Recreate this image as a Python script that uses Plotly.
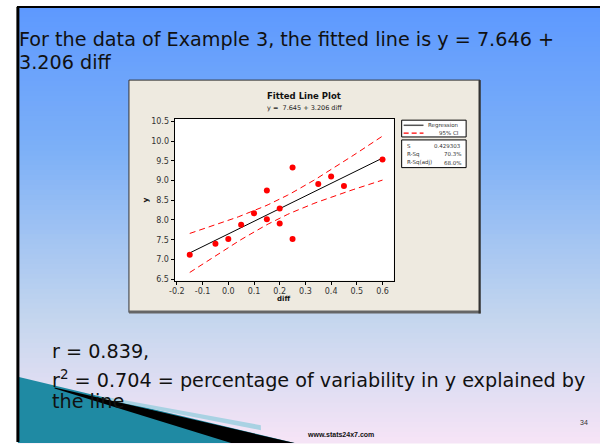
import numpy as np
import plotly.graph_objects as go

# ---- data ----
diff = [-0.15, -0.05, 0.0, 0.05, 0.10, 0.15, 0.15, 0.20, 0.20, 0.25, 0.25, 0.35, 0.40, 0.45, 0.60]
yvals = [7.12, 7.40, 7.52, 7.88, 8.17, 8.75, 8.02, 8.29, 7.91, 9.33, 7.52, 8.91, 9.10, 8.86, 9.53]
intercept = 7.645
slope = 3.206
s_value = 0.429303
t_crit = 2.1604  # t(0.975, 13)
xticks = [-0.2, -0.1, 0.0, 0.1, 0.2, 0.3, 0.4, 0.5, 0.6]
yticks = [6.5, 7.0, 7.5, 8.0, 8.5, 9.0, 9.5, 10.0, 10.5]
stats_labels = ["S", "R-Sq", "R-Sq(adj)"]
stats_values = ["0.429303", "70.3%", "68.0%"]

W, H = 600, 445
def px(x):
    return x / W
def py(y):
    return 1 - y / H

x_arr = np.array(diff)
xbar = x_arr.mean()
sxx = ((x_arr - xbar) ** 2).sum()
n = len(diff)
xfit = np.linspace(min(diff), max(diff), 60)
yfit = intercept + slope * xfit
half = t_crit * s_value * np.sqrt(1 / n + (xfit - xbar) ** 2 / sxx)

fig = go.Figure()
fig.add_trace(go.Scatter(x=xfit, y=yfit, mode="lines", line=dict(color="black", width=1), hoverinfo="skip"))
fig.add_trace(go.Scatter(x=xfit, y=yfit + half, mode="lines", line=dict(color="#ff0000", width=1, dash="6px,4px"), hoverinfo="skip"))
fig.add_trace(go.Scatter(x=xfit, y=yfit - half, mode="lines", line=dict(color="#ff0000", width=1, dash="6px,4px"), hoverinfo="skip"))
fig.add_trace(go.Scatter(x=diff, y=yvals, mode="markers", marker=dict(color="#ff0000", size=6)))

shapes = []
# background gradient
stops = [(0, (92, 152, 255)), (150, (125, 176, 247)), (320, (196, 214, 238)), (445, (246, 228, 246))]
def col(y):
    for (y0, c0), (y1, c1) in zip(stops[:-1], stops[1:]):
        if y0 <= y <= y1:
            t = (y - y0) / (y1 - y0)
            return "rgb(%d,%d,%d)" % tuple(round(a + (b - a) * t) for a, b in zip(c0, c1))
    return "rgb(%d,%d,%d)" % stops[-1][1]
step = 5
for y in range(5, H, step):
    shapes.append(dict(type="rect", xref="paper", yref="paper", x0=px(13), x1=1, y0=py(y + step + 1.5), y1=py(y),
                       fillcolor=col(y + step / 2), line=dict(width=0), layer="below"))

def path(points):
    return "M " + " L ".join("%f,%f" % (px(a), py(b)) for a, b in points) + " Z"

# bottom-left decoration
shapes.append(dict(type="path", xref="paper", yref="paper", path=path([(13, 379), (292, 446), (13, 446)]),
                   fillcolor="#1f8aa3", line=dict(width=0), layer="below"))
shapes.append(dict(type="path", xref="paper", yref="paper", path=path([(100, 402), (258, 433), (258, 428), (100, 399)]),
                   fillcolor="#a9d2e3", line=dict(width=0), layer="below"))
shapes.append(dict(type="path", xref="paper", yref="paper", path=path([(50, 390), (292, 446), (228, 446), (50, 391)]),
                   fillcolor="black", line=dict(width=0), layer="below"))
# slide border
shapes.append(dict(type="line", xref="paper", yref="paper", x0=px(12), x1=1, y0=py(5), y1=py(5), line=dict(color="black", width=2), layer="below"))
shapes.append(dict(type="line", xref="paper", yref="paper", x0=px(13), x1=px(13), y0=py(5), y1=0, line=dict(color="black", width=3), layer="below"))
# chart panel
shapes.append(dict(type="rect", xref="paper", yref="paper", x0=px(125), x1=px(479), y0=py(314), y1=py(79),
                   fillcolor="#eeeae0", line=dict(color="#333333", width=1), layer="below"))
shapes.append(dict(type="line", xref="paper", yref="paper", x0=px(125), x1=px(480), y0=py(313.5), y1=py(313.5), line=dict(color="#666666", width=3), layer="below"))
shapes.append(dict(type="line", xref="paper", yref="paper", x0=px(478.5), x1=px(478.5), y0=py(79), y1=py(315), line=dict(color="#333333", width=2), layer="below"))
# plot area (white)
shapes.append(dict(type="rect", xref="paper", yref="paper", x0=px(171), x1=px(392), y0=py(281.7), y1=py(118.3),
                   fillcolor="white", line=dict(width=0), layer="below"))
# legend boxes
shapes.append(dict(type="rect", xref="paper", yref="paper", x0=px(400), x1=px(465), y0=py(136.5), y1=py(119.5),
                   fillcolor="white", line=dict(color="black", width=1)))
shapes.append(dict(type="rect", xref="paper", yref="paper", x0=px(400), x1=px(465), y0=py(167.5), y1=py(139.5),
                   fillcolor="white", line=dict(color="black", width=1)))
shapes.append(dict(type="line", xref="paper", yref="paper", x0=px(402), x1=px(422), y0=py(124.7), y1=py(124.7), line=dict(color="#555555", width=1.5)))
shapes.append(dict(type="line", xref="paper", yref="paper", x0=px(402), x1=px(422), y0=py(132.7), y1=py(132.7), line=dict(color="#ff0000", width=1.2, dash="5px,3px")))

ann = []
def text(x, y, s, size, anchor="left", color="#111111", family="DejaVu Sans", bold=False, angle=0):
    if bold:
        s = "<b>" + s + "</b>"
    ann.append(dict(x=px(x), y=py(y), xref="paper", yref="paper", text=s, showarrow=False,
                    xanchor=anchor, yanchor="middle", textangle=angle,
                    font=dict(size=size, color=color, family=family)))

text(12, 38, "For the data of Example 3, the fitted line is y = 7.646 +", 19.2)
text(12, 61, "3.206 diff", 19.2)
text(45, 353, "r = 0.839,", 19.2)
text(45, 382, "r<sup>2</sup> = 0.704 = percentage of variability in y explained by", 19.2)
text(45, 404, "the line", 19.2)
text(338, 437, "www.stats24x7.com", 7, anchor="center", color="#111111", family="Liberation Sans", bold=True)
text(590, 425, "34", 7, anchor="right", color="#333333", family="Liberation Sans")
# chart titles
text(302, 95, "Fitted Line Plot", 8.5, anchor="center", family="DejaVu Sans", bold=True, color="#111111")
text(302, 107, "y =  7.645 + 3.206 diff", 6.5, anchor="center", family="DejaVu Sans", color="#222222")
text(142, 200, "y", 7.5, anchor="center", bold=True, angle=-90, color="#111111")
text(281, 300, "diff", 7, anchor="center", bold=True, color="#111111")
# legend text
text(460, 124.5, "Regression", 5.5, anchor="right", color="#333333")
text(460, 132.5, "95% CI", 5.5, anchor="right", color="#333333")
for i, (lab, val) in enumerate(zip(stats_labels, stats_values)):
    yy = 145.7 + i * 8.5
    text(403, yy, lab, 5.5, anchor="left", color="#333333")
    text(462, yy, val, 5.5, anchor="right", color="#333333")

fig.update_layout(
    width=W, height=H, margin=dict(l=0, r=0, t=0, b=0),
    paper_bgcolor="white", plot_bgcolor="white", showlegend=False,
    shapes=shapes, annotations=ann,
    xaxis=dict(domain=[px(171), px(392)], range=[-0.209, 0.6436], tickvals=xticks,
               ticktext=["%.1f" % v for v in xticks], showgrid=False, zeroline=False,
               showline=True, mirror=True, linecolor="black", linewidth=1,
               ticks="outside", ticklen=3, tickcolor="black",
               tickfont=dict(size=8, color="#333333", family="DejaVu Sans")),
    yaxis=dict(domain=[py(281.7), py(118.3)], range=[6.465, 10.56], tickvals=yticks,
               ticktext=["%.1f" % v for v in yticks], showgrid=False, zeroline=False,
               showline=True, mirror=True, linecolor="black", linewidth=1,
               ticks="outside", ticklen=3, tickcolor="black",
               tickfont=dict(size=8, color="#333333", family="DejaVu Sans")),
)

fig.write_html("out.html")
